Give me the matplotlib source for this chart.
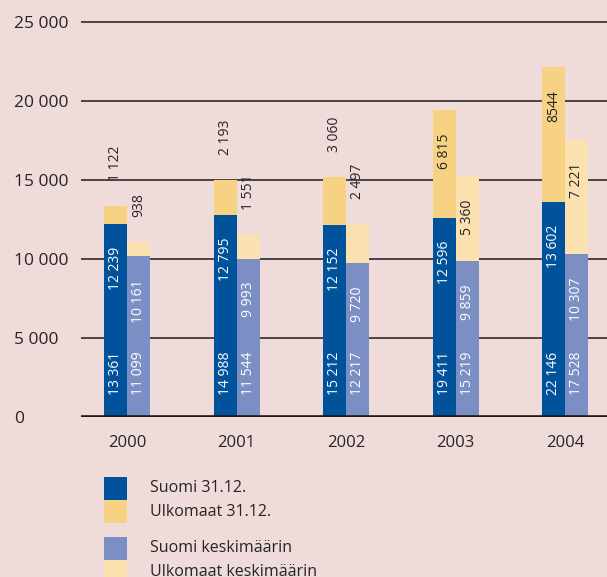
import matplotlib
matplotlib.use("Agg")
import matplotlib.pyplot as plt
from matplotlib.patches import Rectangle
import numpy as np

plt.rcParams['font.family'] = ['Open Sans', 'DejaVu Sans']

years = ["2000", "2001", "2002", "2003", "2004"]
suomi_3112 = [12239, 12795, 12152, 12596, 13602]
ulkomaat_3112 = [1122, 2193, 3060, 6815, 8544]
ulkomaat_3112_labels = ["1 122", "2 193", "3 060", "6 815", "8544"]
suomi_keski = [10161, 9993, 9720, 9859, 10307]
ulkomaat_keski = [938, 1551, 2497, 5360, 7221]
yticks = [0, 5000, 10000, 15000, 20000, 25000]
ytick_labels = ["0", "5 000", "10 000", "15 000", "20 000", "25 000"]
legend_labels = ["Suomi 31.12.", "Ulkomaat 31.12.", "Suomi keskimäärin", "Ulkomaat keskimäärin"]

BG = "#EEDBDA"
C_DB = "#00529B"
C_Y = "#F7D283"
C_LB = "#7B8FC4"
C_LY = "#FBE1B0"
TXT = "#262424"
GRID = "#3C3838"

def fmt(v):
    return f"{v:,}".replace(",", " ")

fig = plt.figure(figsize=(6.07, 5.77), dpi=100, facecolor=BG)
W, H = 607, 577
ax_left, ax_right = 81, 607
ax_bottom, ax_top = 417, 14
ax = fig.add_axes([ax_left / W, 1 - ax_bottom / H, (ax_right - ax_left) / W, (ax_bottom - ax_top) / H])
ax.set_facecolor(BG)

x = np.arange(len(years))
bw = 0.21
xd = x - bw / 2
xl = x + bw / 2

ax.bar(xd, suomi_3112, width=bw, color=C_DB, zorder=3)
ax.bar(xd, ulkomaat_3112, width=bw, bottom=suomi_3112, color=C_Y, zorder=3)
ax.bar(xl, suomi_keski, width=bw, color=C_LB, zorder=3)
ax.bar(xl, ulkomaat_keski, width=bw, bottom=suomi_keski, color=C_LY, zorder=3)

ax.set_xlim(-0.42, 4.383)
ax.set_ylim(0, 25500)

for yv in yticks[1:]:
    ax.axhline(yv, color=GRID, lw=1.3, zorder=1)
ax.axhline(0, color="#1a1a1a", lw=2.6, zorder=4)

for s in ax.spines.values():
    s.set_visible(False)

ax.set_yticks(yticks)
ax.set_yticklabels(ytick_labels, fontsize=12.5, color=TXT)
ax.tick_params(axis='y', length=0, pad=48)
for t in ax.get_yticklabels():
    t.set_horizontalalignment('left')
ax.set_xticks(x)
ax.set_xticklabels(years, fontsize=12, color=TXT)
ax.tick_params(axis='x', length=0, pad=13)

OFF_IN = 16.5
OFF_UP = 18
LFS = 10
threshold = 4000

def label(xpos, y, text, color, where, off=None):
    if where == 'below':
        ax.annotate(text, (xpos, y), xytext=(0, -OFF_IN), textcoords='offset points',
                    rotation=90, ha='center', va='top', fontsize=LFS, color=color, zorder=5)
    else:
        o = OFF_UP if off is None else off
        ax.annotate(text, (xpos, y), xytext=(0, o), textcoords='offset points',
                    rotation=90, ha='center', va='bottom', fontsize=LFS, color=color, zorder=5)

for i in range(len(years)):
    tot_d = suomi_3112[i] + ulkomaat_3112[i]
    tot_l = suomi_keski[i] + ulkomaat_keski[i]
    label(xd[i], 0, fmt(tot_d), "white", 'above', off=16)
    label(xl[i], 0, fmt(tot_l), "white", 'above', off=16)
    label(xd[i], suomi_3112[i], fmt(suomi_3112[i]), "white", 'below')
    label(xl[i], suomi_keski[i], fmt(suomi_keski[i]), "white", 'below')
    if ulkomaat_3112[i] > threshold:
        label(xd[i], tot_d, ulkomaat_3112_labels[i], TXT, 'below')
    else:
        label(xd[i], tot_d, ulkomaat_3112_labels[i], TXT, 'above')
    if ulkomaat_keski[i] > threshold:
        label(xl[i], tot_l, fmt(ulkomaat_keski[i]), TXT, 'below')
    else:
        label(xl[i], tot_l, fmt(ulkomaat_keski[i]), TXT, 'above')

leg_colors = [C_DB, C_Y, C_LB, C_LY]
leg_tops = [477, 500, 537, 560]
for c, top, lab in zip(leg_colors, leg_tops, legend_labels):
    fig.add_artist(Rectangle((104 / W, 1 - (top + 23) / H), 23 / W, 23 / H,
                             transform=fig.transFigure, color=c, lw=0))
    fig.text(150 / W, 1 - (top + 11.5) / H, lab, fontsize=11.5, color=TXT,
             ha='left', va='center')

fig.savefig("out.png", dpi=100, facecolor=BG)
